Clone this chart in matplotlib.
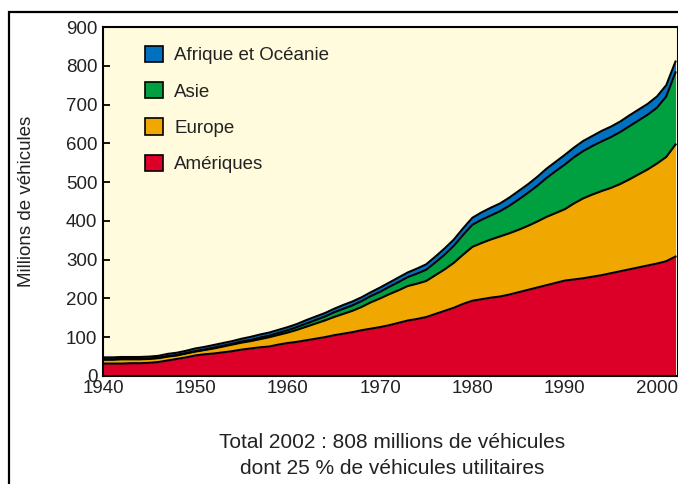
import matplotlib
matplotlib.use("Agg")
import matplotlib.pyplot as plt
import numpy as np
from matplotlib.patches import Patch, Rectangle

plt.rcParams['font.family'] = ['Liberation Sans', 'DejaVu Sans']

years = list(range(1940, 2003))
# Millions of vehicles per region (annual estimates)
ameriques = [32, 32, 32, 33, 33, 34, 36, 40, 44, 48,
             53, 56, 58, 61, 64, 68, 71, 74, 76, 81,
             85, 88, 92, 96, 100, 105, 109, 113, 118, 122,
             126, 131, 137, 143, 147, 152, 160, 168, 176, 186,
             194, 198, 202, 205, 210, 216, 222, 228, 234, 240,
             246, 249, 252, 256, 260, 265, 270, 275, 280, 285,
             290, 296, 308]
europe_top = [42, 42, 43, 43, 43, 44, 46, 50, 53, 58,
              63, 67, 71, 76, 81, 86, 90, 95, 100, 106,
              112, 119, 127, 135, 143, 152, 160, 168, 178, 190,
              200, 211, 221, 232, 238, 245, 260, 275, 292, 313,
              333, 343, 352, 360, 368, 377, 387, 398, 410, 420,
              430, 445, 458, 468, 477, 485, 495, 507, 520, 533,
              548, 565, 597]
europe = [e - a for e, a in zip(europe_top, ameriques)]
asie = [1, 1, 1, 1, 1, 1, 1, 1, 1, 1,
        1, 1, 2, 2, 2, 3, 3, 4, 4, 5,
        6, 7, 8, 9, 10, 12, 13, 14, 15, 16,
        17, 19, 21, 23, 26, 29, 33, 38, 44, 51,
        57, 60, 62, 65, 71, 78, 85, 92, 100, 108,
        115, 119, 122, 125, 128, 131, 134, 137, 139, 141,
        144, 156, 186]
afrique_oceanie = [5, 5, 5, 5, 5, 5, 5, 6, 6, 6,
                   7, 7, 7, 7, 7, 7, 8, 8, 8, 8,
                   8, 8, 9, 9, 9, 9, 10, 10, 10, 10,
                   11, 11, 12, 12, 13, 14, 15, 16, 16, 17,
                   18, 19, 20, 20, 21, 22, 22, 23, 24, 24,
                   25, 25, 26, 26, 27, 27, 27, 28, 28, 28,
                   29, 29, 28]

labels = ["Amériques", "Europe", "Asie", "Afrique et Océanie"]
colors = ["#DC0028", "#F0A800", "#00A040", "#0070C0"]
yticks = [0, 100, 200, 300, 400, 500, 600, 700, 800, 900]
xticks = [1940, 1950, 1960, 1970, 1980, 1990, 2000]

TXT = "#222222"

fig = plt.figure(figsize=(6.78, 4.84), dpi=100)
fig.patch.set_facecolor("white")
ax = fig.add_axes([103/678, 1 - 376/484, 575/678, (376 - 27)/484])
ax.set_facecolor("#FFFBDC")

x = np.array(years, dtype=float)
series = [ameriques, europe, asie, afrique_oceanie]
base = np.zeros(len(years))
for vals, col in zip(series, colors):
    top = base + np.array(vals, dtype=float)
    ax.fill_between(x, base, top, color=col, linewidth=0, zorder=2)
    ax.plot(x, top, color="black", linewidth=1.5, zorder=3)
    base = top

ax.set_xlim(1940, 2002.27)
ax.set_ylim(0, 900)
ax.set_xticks(xticks)
ax.set_yticks(yticks)
ax.tick_params(direction="in", length=5, width=1.3, labelsize=13.5,
               color="black", labelcolor=TXT, pad=4)
ax.tick_params(axis="x", pad=3)
for sp in ax.spines.values():
    sp.set_linewidth(1.5)
    sp.set_color("black")
    sp.set_zorder(5)
ax.set_ylabel("Millions de véhicules", fontsize=13.5, labelpad=22, color=TXT)

handles = [Patch(facecolor=c, edgecolor="black", linewidth=1.2)
           for c in colors]
leg = ax.legend(handles[::-1], labels[::-1], loc="upper left",
                bbox_to_anchor=(0.06, 0.968), frameon=False,
                fontsize=13.5, handlelength=0.95, handleheight=0.95,
                handletextpad=0.6, labelspacing=0.95, borderaxespad=0)
for t in leg.get_texts():
    t.set_color(TXT)

fig.text(392/678, 1 - 443/484, "Total 2002 : 808 millions de véhicules",
         ha="center", va="center", fontsize=15, color=TXT)
fig.text(392/678, 1 - 468/484, "dont 25 % de véhicules utilitaires",
         ha="center", va="center", fontsize=15, color=TXT)

frame = Rectangle((9/678, -0.1), 1.2, 1 - 12/484 + 0.1,
                  transform=fig.transFigure, fill=False,
                  edgecolor="black", linewidth=1.6, clip_on=False)
fig.patches.append(frame)

fig.savefig("out.png", dpi=100, facecolor="white")
